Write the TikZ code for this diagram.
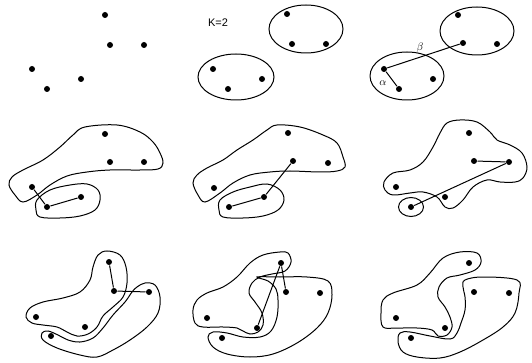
\documentclass[tikz,border=0pt]{standalone}
\usepackage{fontspec}
\setmainfont{Liberation Sans}

\begin{document}
\begin{tikzpicture}[x=1pt, y=-1pt, line width=1pt,
    pnt/.style={circle, fill, inner sep=0pt, minimum size=6pt},
    blob/.style={smooth cycle, tension=0.6},
    lbl/.style={font=\fontsize{11}{13}\selectfont}]
    \useasboundingbox (0,0) rectangle (532,363);

    % row 1: the points, K=2, joining
    \foreach \n/\x/\y in {1/105/15, 2/110/45, 3/144/45, 4/32/69, 5/81/79, 6/47/89}
        \node[pnt] (a\n) at (\x,\y) {};
    \foreach \n/\x/\y in {1/287/14, 2/292/44, 3/326/44, 4/213/69, 5/262/79, 6/228/89}
        \node[pnt] (b\n) at (\x,\y) {};
    \foreach \n/\x/\y in {1/458/15, 2/463/43, 3/497/44, 4/384/69, 5/433/79, 6/399/89}
        \node[pnt] (c\n) at (\x,\y) {};
    \node[lbl] (k) at (218,23) {K=2};
    \draw (306,29) ellipse [x radius=37pt, y radius=24pt];
    \draw (236,77) ellipse [x radius=38pt, y radius=23pt];
    \draw (477,31) ellipse [x radius=37pt, y radius=24pt];
    \draw (407,76) ellipse [x radius=37pt, y radius=24pt];
    \draw (c4) -- (c6);
    \draw (c4) -- (c2);
    \node[lbl] (alpha) at (383,83) {$\alpha$};
    \node[lbl] (beta) at (420,48) {$\beta$};

    % row 2
    \foreach \n/\x/\y in {1/105/134, 2/110/162, 3/144/162, 4/32/187, 5/81/197, 6/47/207}
        \node[pnt] (d\n) at (\x,\y) {};
    \foreach \n/\x/\y in {1/288/133, 2/293/161, 3/328/163, 4/214/188, 5/264/197, 6/229/207}
        \node[pnt] (e\n) at (\x,\y) {};
    \foreach \n/\x/\y in {1/469/133, 2/474/161, 3/509/162, 4/396/187, 5/445/197, 6/411/207}
        \node[pnt] (f\n) at (\x,\y) {};
    \draw plot[blob] coordinates {(85,127) (117,125) (140,132) (153,142) (160,153) (163,163)
        (158,169) (140,170) (110,170) (87,172) (67,176) (50,185) (37,195) (23,202) (15,195)
        (9,185) (12,177) (23,170) (43,160) (60,147) (73,135)};
    \draw plot[blob] coordinates {(37,200) (50,190) (70,185) (87,184) (98,190) (100,200)
        (95,210) (80,216) (60,218) (40,217) (36,210)};
    \draw (d4) -- (d6) -- (d5);
    \draw plot[blob] coordinates {(277,125) (300,127) (323,135) (337,143) (343,157) (345,167)
        (337,171) (320,172) (290,171) (270,172) (250,175) (233,183) (220,193) (205,202)
        (198,195) (193,183) (197,175) (207,168) (223,160) (237,150) (253,140) (267,130)};
    \draw plot[blob] coordinates {(220,200) (233,192) (250,187) (267,184) (280,190) (284,200)
        (278,210) (263,216) (243,218) (223,217) (219,210)};
    \draw (e6) -- (e5) -- (e2);
    \draw plot[blob] coordinates {(447,123) (460,120) (477,122) (490,132) (497,140) (510,145)
        (522,153) (527,167) (523,178) (515,182) (500,182) (487,180) (473,187) (463,200)
        (453,208) (445,207) (437,197) (423,192) (410,193) (393,195) (385,190) (384,182)
        (393,173) (410,170) (423,162) (433,147) (440,133)};
    \draw (f6) ellipse [x radius=12.5pt, y radius=9.5pt];
    \draw (f2) -- (f3) -- (f6);

    % row 3
    \foreach \n/\x/\y in {1/109/262, 2/114/291, 3/149/292, 4/36/317, 5/85/327, 6/51/336}
        \node[pnt] (g\n) at (\x,\y) {};
    \foreach \n/\x/\y in {1/281/263, 2/286/292, 3/320/293, 4/207/318, 5/257/328, 6/222/338}
        \node[pnt] (h\n) at (\x,\y) {};
    \foreach \n/\x/\y in {1/469/263, 2/474/292, 3/509/293, 4/396/318, 5/445/328, 6/411/338}
        \node[pnt] (i\n) at (\x,\y) {};
    \draw plot[blob] coordinates {(98,255) (107,251) (120,255) (126,267) (127,283) (123,297)
        (113,307) (103,316) (97,327) (88,334) (77,336) (67,332) (57,327) (43,325) (32,323)
        (26,317) (30,308) (43,302) (63,298) (80,292) (90,280) (93,267)};
    \draw plot[blob] coordinates {(137,287) (145,283) (155,285) (160,297) (158,313) (147,327)
        (130,340) (113,350) (97,357) (80,355) (57,348) (43,340) (42,333) (48,331) (58,335)
        (68,340) (80,342) (93,338) (103,328) (113,315) (125,302) (132,292)};
    \draw (g1) -- (g2) -- (g3);
    \draw plot[blob] coordinates {(280,252) (288,253) (291,262) (285,271) (272,274) (260,277)
        (252,283) (249,293) (255,302) (262,313) (263,325) (258,332) (250,334) (243,331)
        (237,328) (223,327) (203,327) (195,323) (193,310) (197,300) (207,293) (223,287)
        (237,277) (250,263) (263,255)};
    \draw plot[blob] coordinates {(257,277) (280,277) (307,277) (328,281) (332,295) (328,313)
        (317,328) (297,343) (273,354) (250,357) (227,354) (213,347) (208,337) (213,332)
        (227,333) (243,337) (260,337) (271,331) (277,317) (278,300) (276,289) (268,281)};
    \draw (h2) -- (h1) -- (h5);
    \draw plot[blob] coordinates {(383,300) (393,293) (417,285) (430,273) (443,258) (460,252)
        (477,253) (481,262) (475,270) (460,275) (447,278) (439,287) (438,297) (445,307)
        (450,317) (452,327) (447,335) (438,336) (432,330) (417,328) (397,328) (383,327)
        (381,313)};
    \draw plot[blob] coordinates {(465,280) (483,277) (517,280) (519,293) (515,313) (503,327)
        (483,340) (460,352) (440,358) (417,357) (403,352) (398,342) (400,333) (410,332)
        (430,336) (450,339) (457,333) (461,323) (465,310) (465,297) (463,287)};
\end{tikzpicture}
\end{document}
